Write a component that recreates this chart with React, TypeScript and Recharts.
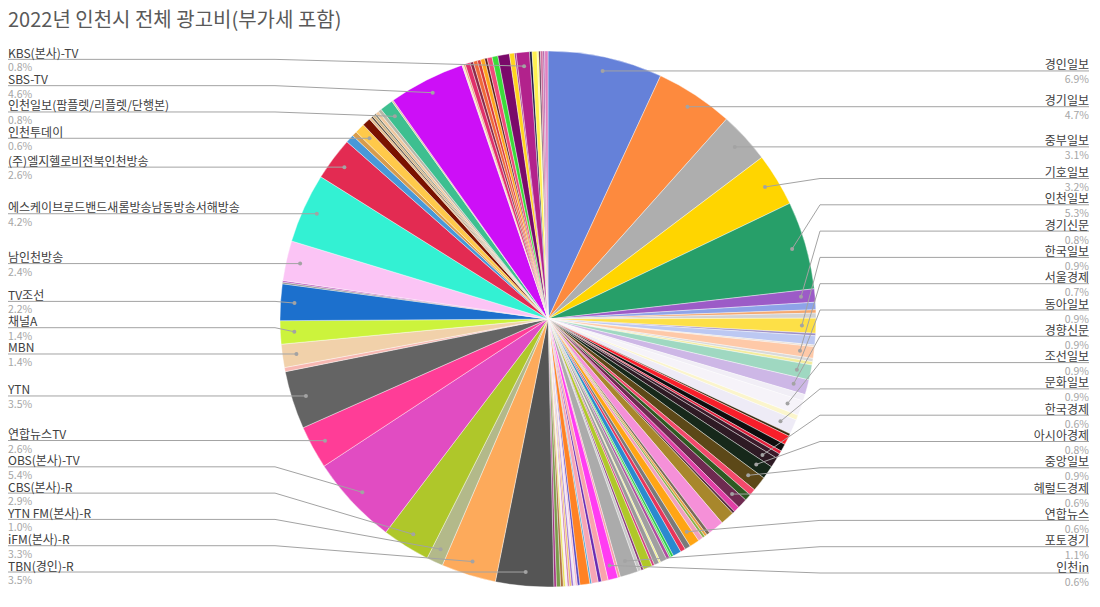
import React from 'react';
import { PieChart, Pie, Cell } from 'recharts';

const blank = (n: number): string[] => Array.from({ length: n }, () => '');

// Slice names in clockwise order from 12 o'clock ('' = unlabeled small slice)
const sliceNames: string[] = [
  '경인일보', '경기일보', '중부일보', '기호일보', '인천일보', '경기신문',
  ...blank(3),
  '한국일보',
  ...blank(3),
  '서울경제',
  ...blank(2),
  '동아일보', '경향신문',
  ...blank(1),
  '조선일보',
  ...blank(1),
  '문화일보',
  ...blank(5),
  '한국경제', '아시아경제', '중앙일보',
  ...blank(2),
  '헤럴드경제',
  ...blank(8),
  '연합뉴스',
  ...blank(13),
  '포토경기',
  ...blank(1),
  '인천in',
  ...blank(16),
  'TBN(경인)-R', 'iFM(본사)-R', 'YTN FM(본사)-R', 'CBS(본사)-R', 'OBS(본사)-TV', '연합뉴스TV', 'YTN',
  ...blank(1),
  'MBN', '채널A', 'TV조선',
  ...blank(2),
  '남인천방송', '에스케이브로드밴드새롬방송남동방송서해방송', '(주)엘지헬로비전북인천방송',
  ...blank(2),
  '인천투데이',
  ...blank(7),
  '인천일보(팜플렛/리플렛/단행본)',
  ...blank(1),
  'SBS-TV',
  ...blank(13),
  'KBS(본사)-TV',
  ...blank(7),
];

// Share of total advertising spend (%), same order
const sliceValues: number[] = [
  6.9, 4.7, 3.1, 3.2, 5.3, 0.8,
  0.45, 0.2, 0.3,
  0.9,
  0.15, 0.55, 0.1,
  0.7,
  0.2, 0.2,
  0.9, 0.9,
  0.4,
  0.9,
  0.3,
  0.9,
  0.15, 0.55, 0.45, 0.2, 0.3,
  0.6, 0.8, 0.9,
  0.4, 0.4,
  0.6,
  0.35, 0.15, 0.85, 0.95, 0.2, 0.15, 0.15, 0.3,
  0.6,
  0.35, 0.3, 0.5, 0.15, 0.1, 0.2, 0.4, 0.1, 0.3, 0.15, 0.55, 0.15, 0.2,
  1.1,
  0.15,
  0.6,
  0.4, 0.2, 0.4, 0.1, 0.6, 0.15, 0.12, 0.12, 0.12, 0.12, 0.12, 0.12, 0.12, 0.16, 0.25, 0.15,
  3.5, 3.3, 1.0, 2.9, 5.4, 2.6, 3.5,
  0.25,
  1.4, 1.4, 2.2,
  0.1, 0.1,
  2.4, 4.2, 2.6,
  0.5, 0.3,
  0.6,
  0.5, 0.15, 0.1, 0.15, 0.1, 0.2, 0.2,
  0.8,
  0.1,
  4.6,
  0.1, 0.1, 0.3, 0.2, 0.25, 0.2, 0.25, 0.15, 0.3, 0.35, 0.7, 0.3, 0.1,
  0.8,
  0.15, 0.3, 0.1, 0.1, 0.15, 0.1, 0.2,
];

const sliceColors: string[] = [
  '#6581D9', '#FD8A3E', '#AEAEAE', '#FFD500', '#279F69', '#9C5BC7',
  '#8EA3E8', '#F5A86F', '#D3D3D3',
  '#FDE047',
  '#9E8FC7', '#BCC8F2', '#E6DCD3',
  '#FEC9A8',
  '#D9D9D9', '#F3EC9C',
  '#9FD8C1', '#CDB7E6',
  '#F1EEF6',
  '#F6F3F9',
  '#FBF5CC',
  '#EEEBF6',
  '#3A2A10', '#F81E2A', '#0E0E0E', '#E0203C', '#3A1A2A',
  '#2E1A24', '#16281A', '#5C4818',
  '#F2496B', '#2F5A22',
  '#6E2A50',
  '#E03FA6', '#5A2E44', '#A8872C', '#F590D8', '#7A6A5A', '#E8A040', '#88B048', '#F0A0C0',
  '#FFA514',
  '#7A7A7A', '#E8355A', '#2A8ACF', '#2BCB4A', '#5AE85A', '#B04AA0', '#A0A0A0', '#F0F080', '#9A9A9A', '#D04080', '#B0C828', '#8A3A7A', '#C8C8C8',
  '#ABABAB',
  '#F4A0A8',
  '#FF3CF2',
  '#F9A3AC', '#6A2AB0', '#F7A6B6', '#3A9AD0', '#FF8224', '#5A48C0', '#F4B8D0', '#EDE3F0', '#9A6AD0', '#F0C060', '#D080B0', '#F5EEF5', '#E8E050', '#B07040', '#7A9A4A', '#A03080',
  '#555555', '#FDAA5B', '#B3B98A', '#AFC72A', '#E14CC2', '#FF3D97', '#646464',
  '#F8B8B2',
  '#F1D1AA', '#CCF33C', '#1C70CD',
  '#8A8A8A', '#C060C0',
  '#FBC4F5', '#33F1D3', '#E32B52',
  '#4898D8', '#D89C4C',
  '#FFC94A',
  '#7A1200', '#E8C090', '#504030', '#D8B888', '#7A7A60', '#F0C8A0', '#B8B8A8',
  '#3EBF90',
  '#E0C0A0',
  '#CD0FF7',
  '#F5E6C8', '#E8A070', '#E0306A', '#8A2A4A', '#F06A3A', '#D83A3A', '#FFA51E', '#5A1A1A', '#F04A7A', '#3ADC3A', '#7A0A6A', '#FFD31E', '#9A2A8A',
  '#B2228C',
  '#1A1A40', '#FFF050', '#FFFF80', '#502040', '#D070A0', '#A050A0', '#E080C0',
];

const W = 1100;
const H = 607;
const CX = 548;
const CY = 319;
const R = 268;
const DOT_R = 254;
const GAP = 26.3;
const RIGHT_MAX = 573;
const LEFT_MAX = 574;
const RIGHT_BEND = 820;
const RIGHT_END = 1089;
const LEFT_BEND = 275;
const LEFT_START = 8;
const RAD = Math.PI / 180;
const FONT = "'Noto Sans CJK KR', 'Noto Sans', sans-serif";

const data = sliceNames.map((name, i) => ({ name, value: sliceValues[i] }));
const total = sliceValues.reduce((a, b) => a + b, 0);

// Resolve label line heights (Excel-like stacking)
const labelY: Record<number, number> = {};
const labelSide: Record<number, 'L' | 'R'> = {};
(() => {
  let cum = 0;
  const right: { index: number; ideal: number; y: number }[] = [];
  const left: { index: number; ideal: number; y: number }[] = [];
  sliceValues.forEach((v, i) => {
    const f = (cum + v / 2) / total;
    cum += v;
    if (!sliceNames[i]) return;
    const a = 90 - f * 360;
    const y = CY - DOT_R * Math.sin(a * RAD);
    if (f < 0.5) right.push({ index: i, ideal: y, y });
    else left.push({ index: i, ideal: y, y });
  });
  for (let i = 1; i < right.length; i++) right[i].y = Math.max(right[i].ideal, right[i - 1].y + GAP);
  right[right.length - 1].y = Math.min(right[right.length - 1].y, RIGHT_MAX);
  for (let i = right.length - 2; i >= 0; i--) right[i].y = Math.min(right[i].y, right[i + 1].y - GAP);
  left[0].y = Math.min(left[0].ideal, LEFT_MAX);
  for (let i = 1; i < left.length; i++) left[i].y = Math.min(left[i].ideal, left[i - 1].y - GAP);
  right.forEach((r) => { labelY[r.index] = r.y; labelSide[r.index] = 'R'; });
  left.forEach((l) => { labelY[l.index] = l.y; labelSide[l.index] = 'L'; });
})();

const renderLabel = (props: any) => {
  const { index, midAngle, cx, cy, percent, name } = props;
  if (!name || labelY[index] === undefined) return null;
  const dx = cx + DOT_R * Math.cos(-midAngle * RAD);
  const dy = cy + DOT_R * Math.sin(-midAngle * RAD);
  const yl = labelY[index];
  const side = labelSide[index];
  const pct = `${(percent * 100).toFixed(1)}%`;
  if (side === 'R') {
    return (
      <g key={`lab-${index}`}>
        <polyline
          points={`${dx},${dy} ${RIGHT_BEND},${yl} ${RIGHT_END},${yl}`}
          fill="none"
          stroke="#A3A3A3"
          strokeWidth={1}
        />
        <circle cx={dx} cy={dy} r={2} fill="#A3A3A3" />
        <text x={RIGHT_END} y={yl - 7} textAnchor="end" dominantBaseline="central" fontSize={12} fill="#404040" fontFamily={FONT}>
          {name}
        </text>
        <text x={RIGHT_END} y={yl + 8} textAnchor="end" dominantBaseline="central" fontSize={10.5} fill="#A6A6A6" fontFamily={FONT}>
          {pct}
        </text>
      </g>
    );
  }
  return (
    <g key={`lab-${index}`}>
      <polyline
        points={`${LEFT_START},${yl} ${LEFT_BEND},${yl} ${dx},${dy}`}
        fill="none"
        stroke="#A3A3A3"
        strokeWidth={1}
      />
      <circle cx={dx} cy={dy} r={2} fill="#A3A3A3" />
      <text x={LEFT_START} y={yl - 7} textAnchor="start" dominantBaseline="central" fontSize={12} fill="#404040" fontFamily={FONT}>
        {name}
      </text>
      <text x={LEFT_START} y={yl + 7.5} textAnchor="start" dominantBaseline="central" fontSize={10.5} fill="#A6A6A6" fontFamily={FONT}>
        {pct}
      </text>
    </g>
  );
};

export default function App() {
  return (
    <div
      style={{
        position: 'absolute',
        left: 0,
        top: 0,
        width: W,
        height: H,
        background: '#ffffff',
        fontFamily: FONT,
      }}
    >
      <div
        style={{
          position: 'absolute',
          left: 8,
          top: 5,
          fontSize: 20,
          lineHeight: '28px',
          color: '#595959',
          whiteSpace: 'nowrap',
        }}
      >
        2022년 인천시 전체 광고비(부가세 포함)
      </div>
      <div style={{ position: 'absolute', left: 0, top: 0 }}>
        <PieChart
          width={W}
          height={H}
          margin={{ top: 0, right: 0, bottom: 0, left: 0 }}
          style={{ fontFamily: FONT }}
        >
          <Pie
            data={data}
            dataKey="value"
            nameKey="name"
            cx={CX}
            cy={CY}
            outerRadius={R}
            innerRadius={0}
            startAngle={90}
            endAngle={-270}
            stroke="#ffffff"
            strokeWidth={0.4}
            label={renderLabel}
            labelLine={false}
            isAnimationActive={false}
          >
            {data.map((d, i) => (
              <Cell key={`c-${i}`} fill={sliceColors[i]} />
            ))}
          </Pie>
        </PieChart>
      </div>
    </div>
  );
}
